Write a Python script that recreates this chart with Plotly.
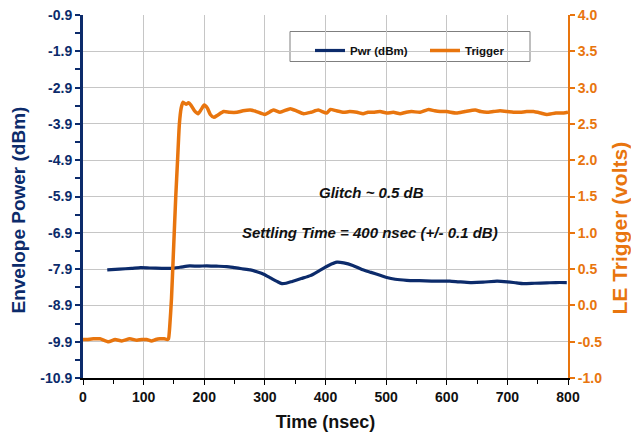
import plotly.graph_objects as go

# Envelope power (dBm) vs. time (nsec)
pwr_t = [40, 60, 80, 95, 110, 130, 146, 160, 176, 190, 204, 220, 237, 250, 262,
         276, 288, 298, 310, 320, 328, 335, 345, 360, 375, 390, 405, 419, 430,
         445, 460, 475, 490, 501, 515, 534, 555, 575, 590, 605, 620, 639, 660,
         683, 700, 715, 726, 745, 765, 780, 798]
pwr_dbm = [-7.92, -7.90, -7.88, -7.86, -7.87, -7.88, -7.88, -7.85, -7.81, -7.82,
           -7.81, -7.82, -7.83, -7.86, -7.89, -7.92, -7.98, -8.04, -8.15, -8.24,
           -8.30, -8.29, -8.24, -8.16, -8.08, -7.94, -7.80, -7.71, -7.73, -7.80,
           -7.91, -7.99, -8.07, -8.13, -8.18, -8.21, -8.22, -8.23, -8.23, -8.23,
           -8.25, -8.27, -8.26, -8.23, -8.25, -8.28, -8.30, -8.29, -8.28, -8.27,
           -8.27]

# Leading-edge trigger (volts) vs. time (nsec)
trig_t = [0, 6, 17, 28, 42, 53, 64, 77, 89, 97, 105, 113, 120, 127, 134, 139,
          141, 143, 146, 149, 153, 156, 159, 162, 165, 170, 174, 178, 184, 190,
          195, 200, 205, 210, 216, 222, 232, 242, 254, 264, 276, 286, 300, 314,
          325, 342, 352, 364, 376, 388, 402, 408, 418, 430, 440, 452, 462, 470,
          479, 490, 501, 512, 523, 533, 542, 556, 570, 580, 589, 600, 616, 630,
          647, 656, 666, 677, 688, 700, 710, 721, 732, 743, 755, 765, 780, 793,
          800]
trig_v = [-0.47, -0.47, -0.46, -0.46, -0.50, -0.47, -0.49, -0.46, -0.48, -0.47,
          -0.47, -0.49, -0.47, -0.46, -0.46, -0.47, -0.46, -0.30, 0.10, 0.70,
          1.50, 2.00, 2.50, 2.72, 2.80, 2.77, 2.79, 2.76, 2.68, 2.64, 2.70, 2.76,
          2.72, 2.63, 2.59, 2.62, 2.67, 2.66, 2.66, 2.68, 2.69, 2.67, 2.63, 2.69,
          2.66, 2.71, 2.68, 2.64, 2.66, 2.69, 2.65, 2.70, 2.68, 2.66, 2.67, 2.66,
          2.64, 2.66, 2.66, 2.67, 2.65, 2.66, 2.64, 2.66, 2.67, 2.66, 2.70, 2.68,
          2.67, 2.67, 2.65, 2.67, 2.69, 2.67, 2.66, 2.67, 2.68, 2.67, 2.66, 2.66,
          2.67, 2.67, 2.65, 2.63, 2.65, 2.65, 2.66]

# Axis ticks
x_ticks = list(range(0, 801, 100))
pwr_ticks = [-0.9, -1.9, -2.9, -3.9, -4.9, -5.9, -6.9, -7.9, -8.9, -9.9, -10.9]
trig_ticks = [4.0, 3.5, 3.0, 2.5, 2.0, 1.5, 1.0, 0.5, 0.0, -0.5, -1.0]

NAVY = "#0C2B6B"
ORANGE = "#E8750E"
GRID = "#C6C6C6"
INK = "#111111"
FONT = "Arial, Liberation Sans, sans-serif"

# plot-area geometry in pixels (used to place paper-referenced items)
L, R, T, B = 83, 568, 15, 378
W, H = R - L, B - T


def px_x(p):
    return (p - L) / W


def px_y(p):
    return (B - p) / H


fig = go.Figure()
fig.add_trace(go.Scatter(x=pwr_t, y=pwr_dbm, name="<b>Pwr (dBm)</b>", mode="lines",
                         line=dict(color=NAVY, width=3.2, shape="spline", smoothing=0.6),
                         yaxis="y"))
fig.add_trace(go.Scatter(x=trig_t, y=trig_v, name="<b>Trigger</b>", mode="lines",
                         line=dict(color=ORANGE, width=3.5, shape="spline", smoothing=0.5),
                         yaxis="y2"))

fig.add_annotation(x=476, y=-5.78, xref="x", yref="y", text="<b><i>Glitch ~ 0.5 dB</i></b>",
                   showarrow=False, font=dict(family=FONT, size=15, color=INK))
fig.add_annotation(x=473, y=-6.89, xref="x", yref="y",
                   text="<b><i>Settling Time = 400 nsec (+/- 0.1 dB)</i></b>",
                   showarrow=False, font=dict(family=FONT, size=15, color=INK))

# Vertical axis titles
fig.add_annotation(x=px_x(17.5), y=px_y(210), xref="paper", yref="paper",
                   xanchor="center", yanchor="middle",
                   text="<b>Envelope Power (dBm)</b>", textangle=-90, showarrow=False,
                   font=dict(family=FONT, size=19, color=NAVY))
fig.add_annotation(x=px_x(618.5), y=px_y(228), xref="paper", yref="paper",
                   xanchor="center", yanchor="middle",
                   text="<b>LE Trigger (volts)</b>", textangle=-90, showarrow=False,
                   font=dict(family=FONT, size=21, color=ORANGE))

# White legend frame drawn over the grid, beneath the traces
fig.add_shape(type="rect", xref="paper", yref="paper",
              x0=px_x(290), x1=px_x(530), y0=px_y(61.5), y1=px_y(31.5),
              line=dict(color="#7F7F7F", width=1), fillcolor="white", layer="between")

fig.update_layout(
    width=631, height=434,
    margin=dict(l=L, r=631 - R, t=T, b=434 - B),
    paper_bgcolor="white", plot_bgcolor="white",
    font=dict(family=FONT),
    showlegend=True,
    legend=dict(orientation="h", x=px_x(310), y=px_y(36),
                xanchor="left", yanchor="top",
                bgcolor="rgba(0,0,0,0)", borderwidth=0,
                font=dict(family=FONT, size=11.5, color=INK),
                entrywidth=70, itemwidth=30),
    xaxis=dict(
        range=[0, 800], tickvals=x_ticks, ticktext=[f"<b>{v}</b>" for v in x_ticks],
        showgrid=True, gridcolor=GRID, gridwidth=1,
        showline=True, linecolor="black", linewidth=2,
        ticks="outside", ticklen=5, tickwidth=1, tickcolor="black",
        minor=dict(tickmode="linear", tick0=0, dtick=50, ticks="outside", ticklen=4,
                   tickcolor="black", showgrid=False),
        tickfont=dict(family=FONT, size=14, color=INK),
        title=dict(text="<b>Time (nsec)</b>", font=dict(family=FONT, size=18, color=INK),
                   standoff=12),
        zeroline=False, automargin=False,
    ),
    yaxis=dict(
        range=[-10.9, -0.9], tickvals=pwr_ticks, ticktext=[f"<b>{v:.1f}</b>" for v in pwr_ticks],
        showgrid=True, gridcolor=GRID, gridwidth=1,
        showline=True, linecolor=NAVY, linewidth=3,
        ticks="outside", ticklen=5, tickwidth=2, tickcolor=NAVY,
        minor=dict(tickmode="linear", tick0=-0.9, dtick=0.5, ticks="outside", ticklen=5,
                   tickcolor=NAVY, tickwidth=2, showgrid=False),
        tickfont=dict(family=FONT, size=14, color=NAVY),
        zeroline=False, automargin=False,
    ),
    yaxis2=dict(
        range=[-1.0, 4.0], overlaying="y", side="right",
        tickvals=trig_ticks, ticktext=[f"<b>{v:.1f}</b>" for v in trig_ticks],
        showgrid=False,
        showline=True, linecolor=ORANGE, linewidth=2,
        ticks="outside", ticklen=5, tickwidth=2, tickcolor=ORANGE,
        tickfont=dict(family=FONT, size=14, color=ORANGE),
        zeroline=False, automargin=False,
    ),
)

fig.write_html("out.html")
